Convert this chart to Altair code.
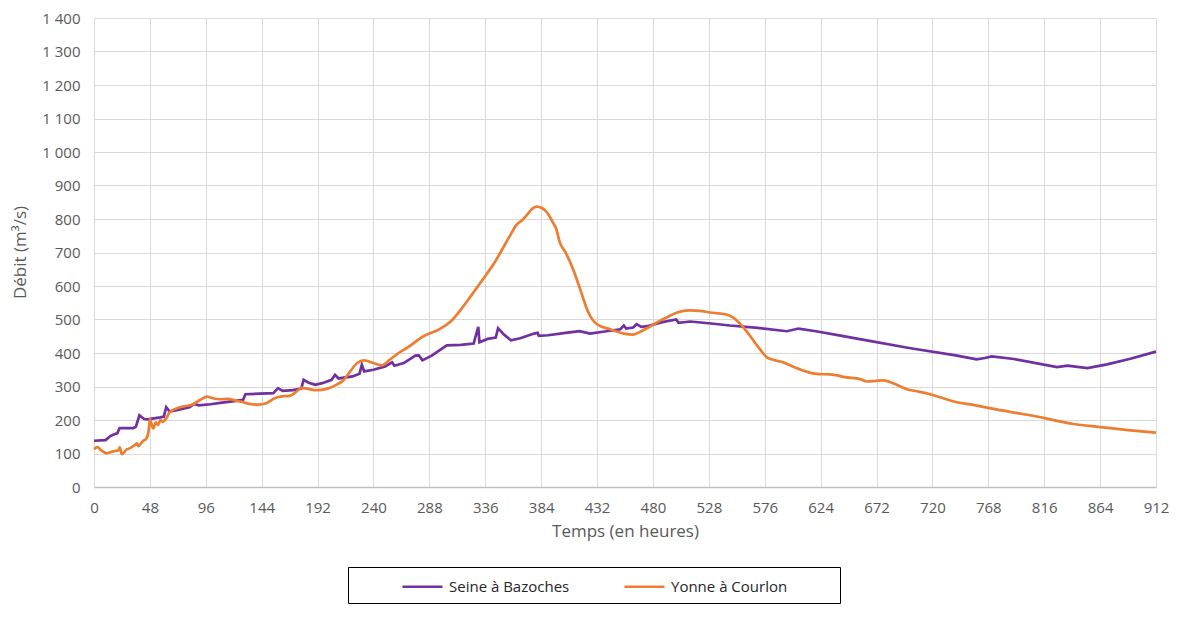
import altair as alt
import pandas as pd

seine_h = [0, 10, 14, 18, 20, 22, 34, 36, 39, 43, 46, 57, 60, 62, 65, 72, 82, 86, 90, 100,
           110, 128, 130, 154, 158, 162, 171, 178, 180, 184, 190, 196, 204, 207, 210, 222,
           228, 230, 232, 240, 250, 256, 258, 266, 276, 279, 282, 290, 303, 315, 326, 330,
           331, 338, 345, 347, 352, 358, 366, 378, 381, 382, 390, 405, 417, 426, 440, 452,
           455, 457, 463, 466, 470, 475, 488, 500, 502, 512, 530, 546, 570, 595, 605, 620,
           641, 660, 700, 740, 758, 765, 771, 790, 827, 836, 853, 870, 890, 912]
seine_v = [138, 140, 152, 158, 160, 176, 176, 180, 214, 203, 202, 208, 210, 238, 225, 230,
           238, 248, 244, 247, 252, 260, 277, 280, 295, 287, 289, 294, 320, 312, 305, 310,
           320, 335, 324, 330, 338, 365, 345, 350, 360, 372, 362, 370, 392, 393, 378, 392,
           423, 424, 428, 478, 432, 442, 446, 474, 455, 438, 444, 458, 460, 451, 453, 460,
           465, 458, 465, 471, 482, 473, 476, 486, 478, 480, 492, 500, 490, 494, 488, 482,
           475, 465, 473, 465, 452, 440, 415, 393, 381, 385, 390, 382, 358, 362, 355, 366,
           383, 404]

yonne_h = [0, 3, 6, 11, 16, 21, 22, 24, 28, 31, 35, 37, 38, 42, 45, 47, 48, 50, 51, 53, 55,
           57, 59, 62, 65, 74, 85, 92, 97, 102, 108, 115, 122, 128, 134, 141, 148, 155, 160,
           168, 174, 178, 185, 191, 200, 208, 214, 220, 226, 232, 240, 247, 254, 260, 270,
           282, 296, 306, 314, 324, 334, 344, 351, 358, 363, 368, 372, 376, 380, 385, 390,
           394, 397, 400, 405, 412, 419, 424, 428, 432, 443, 455, 463, 470, 477, 487, 495,
           505, 512, 520, 529, 543, 548, 552, 558, 563, 570, 578, 585, 592, 600, 609, 616,
           623, 632, 638, 645, 658, 664, 672, 678, 686, 698, 708, 718, 730, 741, 755, 768,
           790, 812, 826, 841, 864, 888, 912]
yonne_v = [113, 119, 110, 101, 106, 110, 118, 98, 112, 116, 125, 130, 122, 137, 145, 170,
           203, 180, 175, 193, 185, 200, 195, 205, 223, 238, 247, 262, 270, 265, 262, 263,
           258, 253, 248, 246, 250, 265, 270, 272, 285, 296, 292, 289, 293, 305, 318, 345,
           370, 378, 370, 363, 380, 396, 418, 448, 470, 493, 525, 572, 620, 670, 712, 755,
           783, 797, 813, 830, 837, 832, 815, 790, 770, 730, 700, 645, 575, 525, 500, 486,
           471, 458, 455, 465, 478, 498, 512, 525, 527, 526, 521, 515, 508, 497, 475, 453,
           420, 387, 378, 372, 360, 348, 340, 337, 336, 333, 328, 322, 315, 317, 318, 310,
           292, 285, 277, 264, 253, 245, 236, 222, 209, 198, 188, 179, 170, 162]

series = ["Seine à Bazoches", "Yonne à Courlon"]
colors = ["#7030a0", "#ed7d31"]
x_ticks = list(range(0, 913, 48))
y_ticks = list(range(0, 1401, 100))

df = pd.concat([
    pd.DataFrame({"h": seine_h, "v": seine_v, "s": series[0]}),
    pd.DataFrame({"h": yonne_h, "v": yonne_v, "s": series[1]}),
])

FONT = "Open Sans"
TXT = "#595959"

x_enc = alt.X("h:Q",
              scale=alt.Scale(domain=[0, 912], nice=False, zero=False),
              axis=alt.Axis(values=x_ticks, title="Temps (en heures)", ticks=False,
                            labelPadding=13, titlePadding=8, labelFontSize=15,
                            titleFontSize=17, labelFlush=False, domainColor="#bfbfbf",
                            domainWidth=1.5))
y_enc = alt.Y("v:Q",
              scale=alt.Scale(domain=[0, 1400], nice=False),
              axis=alt.Axis(values=y_ticks, title="Débit (m³/s)", ticks=False,
                            labelPadding=14, labelFontSize=15, titleFontSize=17,
                            labelExpr="replace(format(datum.value, ','), ',', ' ')",
                            titleX=-74, titleY=234, titleBaseline="middle",
                            domainColor="#d9d9d9"))
c_enc = alt.Color("s:N",
                  scale=alt.Scale(domain=series, range=colors),
                  legend=alt.Legend(orient="none", legendX=254, legendY=549,
                                    direction="horizontal", title="\u00a0",
                                    titleOrient="right", titlePadding=45,
                                    symbolType="M-2,0L2,0", symbolSize=400,
                                    symbolStrokeWidth=2.6, symbolOffset=55,
                                    labelOffset=15, labelFontSize=15, columnPadding=8,
                                    padding=8, strokeColor="black"))

base = alt.Chart(df).encode(x=x_enc, y=y_enc, color=c_enc, order=alt.Order("h:Q"))

seine = base.transform_filter(alt.datum.s == series[0]).mark_line(strokeWidth=2.7)
yonne = base.transform_filter(alt.datum.s == series[1]).mark_line(
    strokeWidth=2.7, interpolate="monotone")

chart = alt.layer(seine, yonne).properties(
    width=1062, height=469,
    padding={"left": 86, "top": 10, "right": 20, "bottom": 118},
    autosize=alt.AutoSizeParams(type="none"),
).configure_axis(
    gridColor="#d9d9d9", gridWidth=1, labelColor=TXT, titleColor=TXT,
    labelFont=FONT, titleFont=FONT, titleFontWeight="normal",
).configure_legend(
    labelFont=FONT, labelColor="#262626", titleFont=FONT,
).configure_view(stroke=None)

chart.save("out.html", embed_options={"renderer": "svg", "actions": False})
